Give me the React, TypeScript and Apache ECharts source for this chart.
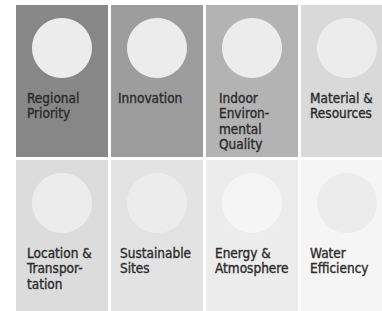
import React, { useEffect, useRef } from "react";
import * as echarts from "echarts";

const labels = [
  "Regional\nPriority",
  "Innovation",
  "Indoor\nEnviron-\nmental\nQuality",
  "Material &\nResources",
  "Location &\nTranspor-\ntation",
  "Sustainable\nSites",
  "Energy &\nAtmosphere",
  "Water\nEfficiency",
];
const tileCol = [0, 1, 2, 3, 0, 1, 2, 3];
const tileRow = [0, 0, 0, 0, 1, 1, 1, 1];
const tileColors = ["#878787", "#9d9d9d", "#b3b3b3", "#d9d9d9", "#dcdcdc", "#e3e3e3", "#ececec", "#f5f5f5"];
const circleColors = ["#ececec", "#ececec", "#ececec", "#ececec", "#ececec", "#ececec", "#f5f5f5", "#ececec"];
const textOffsets = [11, 7, 13, 9, 11, 9, 9, 9];

// layout: each column band 95px, each row band 155px
const W = 382;
const H = 311;
const LEFT = 16;
const TOP = 5;
const COLW = 95;
const ROWH = 155;

export default function App() {
  const ref = useRef<HTMLDivElement>(null);
  useEffect(() => {
    document.body.style.margin = "0";
    const chart = echarts.init(ref.current!, null, { renderer: "svg" });
    const data = labels.map((l, i) => [tileCol[i], tileRow[i], i]);
    chart.setOption({
      animation: false,
      grid: { left: LEFT, top: TOP, right: 0, bottom: 0 },
      xAxis: { type: "value", min: -0.5, max: -0.5 + (W - LEFT) / COLW, show: false },
      yAxis: { type: "value", min: -0.5, max: -0.5 + (H - TOP) / ROWH, show: false, inverse: true },
      series: [
        {
          type: "custom",
          data,
          clip: false,
          renderItem: (params: any, api: any) => {
            const c = api.value(0);
            const r = api.value(1);
            const i = api.value(2);
            const [cx, cy] = api.coord([c, r]);
            const [bw, bh] = api.size([1, 1]);
            const x0 = cx - bw / 2;
            const y0 = cy - bh / 2;
            const w = bw - 3;
            const h = bh - 3;
            return {
              type: "group",
              children: [
                { type: "rect", shape: { x: x0, y: y0, width: w, height: h }, style: { fill: tileColors[i] } },
                { type: "circle", shape: { cx: x0 + w / 2, cy: y0 + 43, r: 30 }, style: { fill: circleColors[i] } },
                {
                  type: "text",
                  x: x0 + textOffsets[i],
                  y: y0 + 85,
                  style: {
                    text: labels[i],
                    fill: "#2b2b2b",
                    stroke: "#2b2b2b",
                    lineWidth: 0.35,
                    font: "13.5px 'DejaVu Sans Condensed', sans-serif",
                    lineHeight: 15.5,
                    verticalAlign: "top",
                    align: "left",
                  },
                },
              ],
            };
          },
        },
      ],
    });
    return () => chart.dispose();
  }, []);
  return <div ref={ref} style={{ width: W, height: H }} />;
}
